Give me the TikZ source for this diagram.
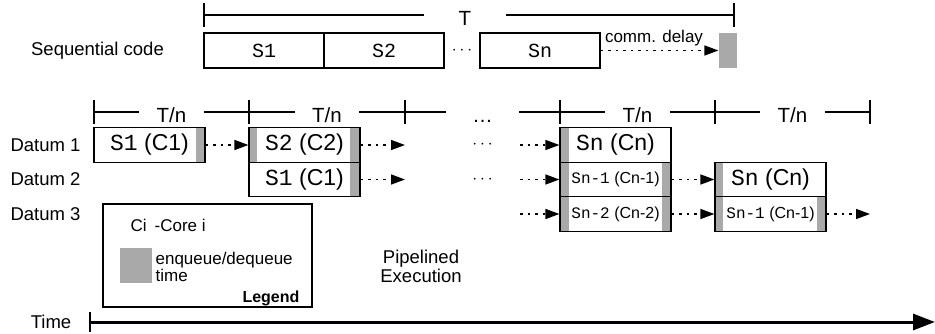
\documentclass[tikz,border=0pt]{standalone}
\usepackage{fontspec}
\setmainfont{Liberation Sans}
\setmonofont{Liberation Mono}
\usetikzlibrary{arrows.meta,positioning}
\definecolor{qgray}{RGB}{169,169,169}

\begin{document}
\begin{tikzpicture}[x=1pt,y=-1pt,line width=1.2pt,
  every node/.style={font=\fontsize{18.5}{18.5}\selectfont,inner sep=0pt},
  cell/.style={draw,minimum width=111pt,minimum height=34.5pt},
  wide/.style={font=\fontsize{23}{23}\selectfont},
  narrow/.style={font=\fontsize{16}{16}\selectfont},
  small/.style={font=\fontsize{17}{17}\selectfont},
  seqbox/.style={draw,minimum width=120pt,minimum height=35pt,font=\fontsize{20}{20}\selectfont\ttfamily},
  span/.style={font=\fontsize{20.5}{20.5}\selectfont,text height=20pt,text depth=0pt,inner xsep=17pt},
  flow/.style={dash pattern=on 2.5pt off 5pt,line width=1.4pt,-{Triangle[length=14pt,width=10pt]}}]
  \useasboundingbox (0,0) rectangle (935,333);

  % sequential code
  \node (seq) at (97.5,51) {Sequential code};
  \node[seqbox] (s1) at (264,50.5) {S1};
  \node[seqbox] (s2) at (384,50.5) {S2};
  \node (sdots) at (462,51) {$\cdots$};
  \node[seqbox] (sn) at (540,50.5) {Sn};
  \node[fill=qgray,minimum width=18pt,minimum height=35pt] (delay) at (728,50.5) {};
  \draw[flow] (sn) -- (delay);
  \node[font=\fontsize{17}{17}\selectfont] (comm) at (654,38) {comm. delay};

  % total time T
  \coordinate (tl) at (204,15);
  \coordinate (tr) at (734,15);
  \node[span,inner xsep=34pt] (T) at (465,15) {T};
  \draw (tl) -- (T) -- (tr);
  \draw (204,3) -- (204,27) (734,3) -- (734,27);

  % periods T/n
  \foreach \x [count=\i from 0] in {94,249,405,560,715,870} {
    \coordinate (k\i) at (\x,112);
    \draw (\x,100) -- (\x,124);
  }
  \node[span] (tn1) at (171.5,112) {T/n};
  \node[span] (tn2) at (327,112) {T/n};
  \node[span,inner xsep=26pt] (tdots) at (482.5,112) {\dots};
  \node[span] (tn4) at (637.5,112) {T/n};
  \node[span] (tn5) at (792.5,112) {T/n};
  \draw (k0) -- (tn1) -- (k1) -- (tn2) -- (k2) -- (tdots) -- (k3) -- (tn4) -- (k4) -- (tn5) -- (k5);

  % data rows
  \node[anchor=west] (dat1) at (10,145) {Datum 1};
  \node[anchor=west] (dat2) at (10,179.5) {Datum 2};
  \node[anchor=west] (dat3) at (10,214) {Datum 3};

  \fill[qgray] (196,128) rectangle (205,162);
  \fill[qgray] (249,128) rectangle (257,162);
  \fill[qgray] (350,128) rectangle (360,197);
  \fill[qgray] (560,128) rectangle (569,231);
  \fill[qgray] (662,162) rectangle (671,231);
  \fill[qgray] (715,162) rectangle (723,231);
  \fill[qgray] (817,197) rectangle (826,231);

  \node[cell,wide] (d1c1) at (149.5,145) {\texttt{S1} (C1)};
  \node[cell,wide] (d1c2) at (304.5,145) {\texttt{S2} (C2)};
  \node[cell,wide] (d2c2) at (304.5,179.5) {\texttt{S1} (C1)};
  \node[cell,wide] (d1c4) at (615.5,145) {\texttt{Sn} (Cn)};
  \node[cell,narrow] (d2c4) at (615.5,179.5) {\texttt{Sn-1} (Cn-1)};
  \node[cell,narrow] (d3c4) at (615.5,214) {\texttt{Sn-2} (Cn-2)};
  \node[cell,wide] (d2c5) at (770.5,179.5) {\texttt{Sn} (Cn)};
  \node[cell,narrow] (d3c5) at (770.5,214) {\texttt{Sn-1} (Cn-1)};

  \node (dots1) at (482.5,145) {$\cdots$};
  \node (dots2) at (482.5,179.5) {$\cdots$};
  \coordinate (e12) at (405,145);
  \coordinate (e22) at (405,179.5);
  \coordinate (b14) at (520,145);
  \coordinate (b24) at (520,179.5);
  \coordinate (b34) at (520,214);
  \coordinate (e35) at (870,214);

  \draw[flow] (d1c1) -- (d1c2);
  \draw[flow] (d1c2) -- (e12);
  \draw[flow] (d2c2) -- (e22);
  \draw[flow] (b14) -- (d1c4);
  \draw[flow] (b24) -- (d2c4);
  \draw[flow] (b34) -- (d3c4);
  \draw[flow] (d2c4) -- (d2c5);
  \draw[flow] (d3c4) -- (d3c5);
  \draw[flow] (d3c5) -- (e35);

  % legend
  \node[draw,minimum width=209pt,minimum height=103pt] (legend) at (207.5,255.5) {};
  \node[small,anchor=west] (core) at (130,225) {Ci\hspace{8pt}-Core i};
  \node[fill=qgray,minimum width=32pt,minimum height=35pt] (qsym) at (136,265.5) {};
  \node[small,anchor=west,align=left] (qtext) at (155,266.5) {enqueue/dequeue\\time};
  \node[anchor=east,font=\bfseries\fontsize{16}{16}\selectfont] (legname) at (300,298) {Legend};

  \node[align=center] (pipe) at (421,266.5) {Pipelined\\Execution};

  % time axis
  \node (time) at (51,322) {Time};
  \coordinate (t0) at (90,322);
  \coordinate (t1) at (935,322);
  \draw[line width=3pt,-{Triangle[length=22pt,width=16pt]}] (t0) -- (t1);
  \draw[line width=1.5pt] (90,312) -- (90,332);
\end{tikzpicture}
\end{document}
